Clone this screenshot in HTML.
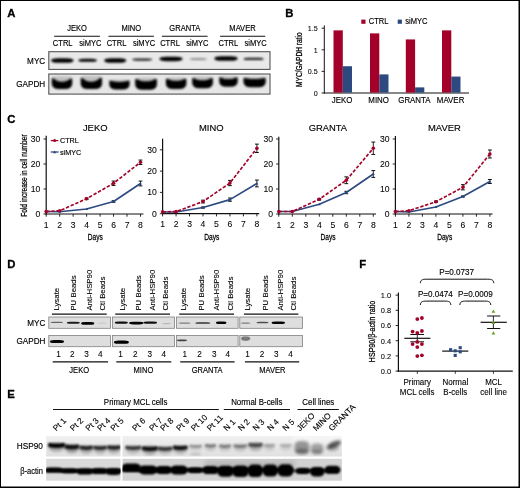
<!DOCTYPE html>
<html><head><meta charset="utf-8"><title>Figure</title>
<style>
html,body{margin:0;padding:0;background:#fff;}
body{width:520px;height:488px;overflow:hidden;}
svg{display:block;font-family:"Liberation Sans", sans-serif;}
text{font-family:"Liberation Sans", sans-serif;}
</style></head><body>
<svg width="520" height="488" viewBox="0 0 520 488">
<defs>
<filter id="b05" filterUnits="userSpaceOnUse" x="0" y="0" width="520" height="488"><feGaussianBlur stdDeviation="0.5"/></filter>
<filter id="b07" filterUnits="userSpaceOnUse" x="0" y="0" width="520" height="488"><feGaussianBlur stdDeviation="0.7"/></filter>
<filter id="b09" filterUnits="userSpaceOnUse" x="0" y="0" width="520" height="488"><feGaussianBlur stdDeviation="0.85"/></filter>
<filter id="b1" filterUnits="userSpaceOnUse" x="0" y="0" width="520" height="488"><feGaussianBlur stdDeviation="0.9"/></filter>
<filter id="b15" filterUnits="userSpaceOnUse" x="0" y="0" width="520" height="488"><feGaussianBlur stdDeviation="1.4"/></filter>
<filter id="b2" filterUnits="userSpaceOnUse" x="0" y="0" width="520" height="488"><feGaussianBlur stdDeviation="2"/></filter>
<linearGradient id="gE" x1="0" y1="0" x2="0" y2="1"><stop offset="0" stop-color="#f0f0f0"/><stop offset="0.5" stop-color="#e8e8e8"/><stop offset="1" stop-color="#e0e0e0"/></linearGradient>
<clipPath id="cA1"><rect x="49" y="52" width="221" height="17.5"/></clipPath>
<clipPath id="cA2"><rect x="49" y="74.3" width="221" height="19.7"/></clipPath>
<clipPath id="cE1"><rect x="46.2" y="436.0" width="74.3" height="20.5"/></clipPath>
<clipPath id="cE2"><rect x="122.5" y="436.0" width="219.4" height="20.5"/></clipPath>
<clipPath id="cE3"><rect x="46.2" y="458.8" width="74.3" height="21.9"/></clipPath>
<clipPath id="cE4"><rect x="122.5" y="458.8" width="219.4" height="21.9"/></clipPath>
</defs>
<rect x="0" y="0" width="520" height="488" fill="#fff"/>
<g opacity="0.999">

<text transform="translate(7.30 17.40) scale(0.97 1)" font-size="11.7" text-anchor="start" font-weight="bold" fill="#000" stroke="#000" stroke-width="0.3" >A</text>
<text transform="translate(285.20 17.40) scale(0.97 1)" font-size="11.7" text-anchor="start" font-weight="bold" fill="#000" stroke="#000" stroke-width="0.3" >B</text>
<text transform="translate(7.30 122.50) scale(0.97 1)" font-size="11.7" text-anchor="start" font-weight="bold" fill="#000" stroke="#000" stroke-width="0.3" >C</text>
<text transform="translate(7.30 268.30) scale(0.97 1)" font-size="11.7" text-anchor="start" font-weight="bold" fill="#000" stroke="#000" stroke-width="0.3" >D</text>
<text transform="translate(7.30 398.30) scale(0.97 1)" font-size="11.7" text-anchor="start" font-weight="bold" fill="#000" stroke="#000" stroke-width="0.3" >E</text>
<text transform="translate(359.20 268.30) scale(0.97 1)" font-size="11.7" text-anchor="start" font-weight="bold" fill="#000" stroke="#000" stroke-width="0.3" >F</text>
<text transform="translate(77.10 31.00) scale(0.9 1)" font-size="8.4" text-anchor="middle" font-weight="normal" fill="#000" stroke="#000" stroke-width="0.16" >JEKO</text>
<line x1="54.20" y1="36.20" x2="99.90" y2="36.20" stroke="#111" stroke-width="1.1" />
<text transform="translate(62.70 45.80) scale(0.9 1)" font-size="8.4" text-anchor="middle" font-weight="normal" fill="#000" stroke="#000" stroke-width="0.16" >CTRL</text>
<text transform="translate(90.30 45.80) scale(0.9 1)" font-size="8.4" text-anchor="middle" font-weight="normal" fill="#000" stroke="#000" stroke-width="0.16" >siMYC</text>
<text transform="translate(131.30 31.00) scale(0.9 1)" font-size="8.4" text-anchor="middle" font-weight="normal" fill="#000" stroke="#000" stroke-width="0.16" >MINO</text>
<line x1="108.50" y1="36.20" x2="153.90" y2="36.20" stroke="#111" stroke-width="1.1" />
<text transform="translate(116.50 45.80) scale(0.9 1)" font-size="8.4" text-anchor="middle" font-weight="normal" fill="#000" stroke="#000" stroke-width="0.16" >CTRL</text>
<text transform="translate(144.00 45.80) scale(0.9 1)" font-size="8.4" text-anchor="middle" font-weight="normal" fill="#000" stroke="#000" stroke-width="0.16" >siMYC</text>
<text transform="translate(184.80 31.00) scale(0.9 1)" font-size="8.4" text-anchor="middle" font-weight="normal" fill="#000" stroke="#000" stroke-width="0.16" >GRANTA</text>
<line x1="161.90" y1="36.20" x2="207.60" y2="36.20" stroke="#111" stroke-width="1.1" />
<text transform="translate(170.00 45.80) scale(0.9 1)" font-size="8.4" text-anchor="middle" font-weight="normal" fill="#000" stroke="#000" stroke-width="0.16" >CTRL</text>
<text transform="translate(197.40 45.80) scale(0.9 1)" font-size="8.4" text-anchor="middle" font-weight="normal" fill="#000" stroke="#000" stroke-width="0.16" >siMYC</text>
<text transform="translate(242.50 31.00) scale(0.9 1)" font-size="8.4" text-anchor="middle" font-weight="normal" fill="#000" stroke="#000" stroke-width="0.16" >MAVER</text>
<line x1="220.10" y1="36.20" x2="265.30" y2="36.20" stroke="#111" stroke-width="1.1" />
<text transform="translate(228.30 45.80) scale(0.9 1)" font-size="8.4" text-anchor="middle" font-weight="normal" fill="#000" stroke="#000" stroke-width="0.16" >CTRL</text>
<text transform="translate(255.70 45.80) scale(0.9 1)" font-size="8.4" text-anchor="middle" font-weight="normal" fill="#000" stroke="#000" stroke-width="0.16" >siMYC</text>
<text transform="translate(45.20 64.20) scale(0.97 1)" font-size="8.4" text-anchor="end" font-weight="normal" fill="#000" stroke="#000" stroke-width="0.16" >MYC</text>
<text transform="translate(45.20 87.20) scale(0.97 1)" font-size="8.4" text-anchor="end" font-weight="normal" fill="#000" stroke="#000" stroke-width="0.16" >GAPDH</text>
<rect x="48.80" y="51.70" width="221.20" height="17.70" fill="#e9e9e9" stroke="#555" stroke-width="1.1" />
<rect x="48.80" y="74.00" width="221.20" height="20.10" fill="#e6e6e6" stroke="#555" stroke-width="1.1" />
<g clip-path="url(#cA1)">
<rect x="51.10" y="58.15" width="22.40" height="4.70" rx="6.72" ry="2.35" fill="#000" opacity="1.0" filter="url(#b1)"/>
<rect x="78.35" y="58.65" width="18.50" height="3.10" rx="5.55" ry="1.55" fill="#000" opacity="1.0" filter="url(#b1)"/>
<rect x="104.20" y="58.15" width="22.00" height="4.70" rx="6.60" ry="2.35" fill="#000" opacity="1.0" filter="url(#b1)"/>
<rect x="132.20" y="58.50" width="20.00" height="2.20" rx="4.84" ry="1.10" fill="#000" opacity="0.88" filter="url(#b1)"/>
<rect x="159.30" y="56.65" width="23.40" height="4.50" rx="7.02" ry="2.25" fill="#000" opacity="1.0" filter="url(#b1)"/>
<rect x="189.80" y="58.20" width="17.00" height="1.80" rx="3.96" ry="0.90" fill="#000" opacity="0.45" filter="url(#b1)"/>
<rect x="214.30" y="56.15" width="23.40" height="4.70" rx="7.02" ry="2.35" fill="#000" opacity="1.0" filter="url(#b1)"/>
<rect x="243.60" y="57.70" width="20.00" height="2.40" rx="5.28" ry="1.20" fill="#000" opacity="0.88" filter="url(#b1)"/>
</g>
<g clip-path="url(#cA2)">
<rect x="51.90" y="76.20" width="20.20" height="10.80" rx="3" ry="3" fill="#000" opacity="0.16" filter="url(#b1)"/>
<path d="M51.90 78.29 C55.94 78.79 55.54 81.70 62.00 81.70 C68.46 81.70 68.06 79.04 72.10 78.54 L72.10 84.00 Q71.60 89.00 65.10 89.00 L58.90 89.00 Q52.40 89.00 51.90 84.00 Z" fill="#000" filter="url(#b1)"/>
<rect x="80.80" y="75.80" width="21.10" height="11.20" rx="3" ry="3" fill="#000" opacity="0.16" filter="url(#b1)"/>
<path d="M80.80 78.04 C85.02 78.54 84.60 81.70 91.35 81.70 C98.10 81.70 97.68 78.29 101.90 77.79 L101.90 84.00 Q101.40 89.00 94.90 89.00 L87.80 89.00 Q81.30 89.00 80.80 84.00 Z" fill="#000" filter="url(#b1)"/>
<rect x="109.40" y="79.70" width="20.10" height="7.70" rx="3" ry="3" fill="#000" opacity="0.16" filter="url(#b1)"/>
<path d="M109.40 80.54 C113.42 81.04 113.02 81.90 119.45 81.90 C125.88 81.90 125.48 81.04 129.50 80.54 L129.50 84.40 Q129.00 89.40 122.50 89.40 L116.40 89.40 Q109.90 89.40 109.40 84.40 Z" fill="#000" filter="url(#b1)"/>
<rect x="135.30" y="77.50" width="21.50" height="10.30" rx="3" ry="3" fill="#000" opacity="0.16" filter="url(#b1)"/>
<path d="M135.30 78.91 C139.60 79.41 139.17 81.20 146.05 81.20 C152.93 81.20 152.50 79.41 156.80 78.91 L156.80 84.80 Q156.30 89.80 149.80 89.80 L142.30 89.80 Q135.80 89.80 135.30 84.80 Z" fill="#000" filter="url(#b1)"/>
<rect x="166.00" y="77.50" width="20.30" height="9.50" rx="3" ry="3" fill="#000" opacity="0.16" filter="url(#b1)"/>
<path d="M166.00 78.75 C170.06 79.25 169.65 80.80 176.15 80.80 C182.65 80.80 182.24 79.25 186.30 78.75 L186.30 84.00 Q185.80 89.00 179.30 89.00 L173.00 89.00 Q166.50 89.00 166.00 84.00 Z" fill="#000" filter="url(#b1)"/>
<rect x="192.30" y="76.50" width="20.50" height="9.80" rx="3" ry="3" fill="#000" opacity="0.16" filter="url(#b1)"/>
<path d="M192.30 77.94 C196.40 78.44 195.99 80.30 202.55 80.30 C209.11 80.30 208.70 78.44 212.80 77.94 L212.80 83.30 Q212.30 88.30 205.80 88.30 L199.30 88.30 Q192.80 88.30 192.30 83.30 Z" fill="#000" filter="url(#b1)"/>
<rect x="219.30" y="76.00" width="18.30" height="8.80" rx="3" ry="3" fill="#000" opacity="0.16" filter="url(#b1)"/>
<path d="M219.30 77.14 C222.96 77.64 222.59 79.00 228.45 79.00 C234.31 79.00 233.94 77.64 237.60 77.14 L237.60 81.80 Q237.10 86.80 230.60 86.80 L226.30 86.80 Q219.80 86.80 219.30 81.80 Z" fill="#000" filter="url(#b1)"/>
<rect x="243.60" y="76.90" width="22.00" height="8.30" rx="3" ry="3" fill="#000" opacity="0.16" filter="url(#b1)"/>
<path d="M243.60 77.70 C248.00 78.20 247.56 79.00 254.60 79.00 C261.64 79.00 261.20 78.20 265.60 77.70 L265.60 82.20 Q265.10 87.20 258.60 87.20 L250.60 87.20 Q244.10 87.20 243.60 82.20 Z" fill="#000" filter="url(#b1)"/>
</g>
<line x1="324.30" y1="25.40" x2="324.30" y2="93.50" stroke="#111" stroke-width="1" />
<line x1="323.80" y1="93.00" x2="469.00" y2="93.00" stroke="#111" stroke-width="1" />
<line x1="321.60" y1="93.00" x2="324.30" y2="93.00" stroke="#111" stroke-width="0.9" />
<text transform="translate(317.70 95.80) scale(0.9 1)" font-size="7.9" text-anchor="end" font-weight="normal" fill="#000" stroke="#000" stroke-width="0.08" >0</text>
<line x1="321.60" y1="71.40" x2="324.30" y2="71.40" stroke="#111" stroke-width="0.9" />
<text transform="translate(317.70 74.20) scale(0.9 1)" font-size="7.9" text-anchor="end" font-weight="normal" fill="#000" stroke="#000" stroke-width="0.08" >0.5</text>
<line x1="321.60" y1="49.80" x2="324.30" y2="49.80" stroke="#111" stroke-width="0.9" />
<text transform="translate(317.70 52.60) scale(0.9 1)" font-size="7.9" text-anchor="end" font-weight="normal" fill="#000" stroke="#000" stroke-width="0.08" >1</text>
<line x1="321.60" y1="28.20" x2="324.30" y2="28.20" stroke="#111" stroke-width="0.9" />
<text transform="translate(317.70 31.00) scale(0.9 1)" font-size="7.9" text-anchor="end" font-weight="normal" fill="#000" stroke="#000" stroke-width="0.08" >1.5</text>
<rect x="333.50" y="30.36" width="9.30" height="62.24" fill="#a30029" stroke="none" stroke-width="0" />
<rect x="342.80" y="66.22" width="9.20" height="26.38" fill="#2c4a80" stroke="none" stroke-width="0" />
<text transform="translate(342.10 103.10) scale(0.94 1)" font-size="8.4" text-anchor="middle" font-weight="normal" fill="#000" stroke="#000" stroke-width="0.16" >JEKO</text>
<rect x="370.00" y="33.38" width="9.30" height="59.22" fill="#a30029" stroke="none" stroke-width="0" />
<rect x="379.30" y="74.42" width="9.20" height="18.18" fill="#2c4a80" stroke="none" stroke-width="0" />
<text transform="translate(378.60 103.10) scale(0.94 1)" font-size="8.4" text-anchor="middle" font-weight="normal" fill="#000" stroke="#000" stroke-width="0.16" >MINO</text>
<rect x="405.80" y="39.43" width="9.30" height="53.17" fill="#a30029" stroke="none" stroke-width="0" />
<rect x="415.10" y="87.38" width="9.20" height="5.22" fill="#2c4a80" stroke="none" stroke-width="0" />
<text transform="translate(414.40 103.10) scale(0.94 1)" font-size="8.4" text-anchor="middle" font-weight="normal" fill="#000" stroke="#000" stroke-width="0.16" >GRANTA</text>
<rect x="442.00" y="30.36" width="9.30" height="62.24" fill="#a30029" stroke="none" stroke-width="0" />
<rect x="451.30" y="76.58" width="9.20" height="16.02" fill="#2c4a80" stroke="none" stroke-width="0" />
<text transform="translate(450.60 103.10) scale(0.94 1)" font-size="8.4" text-anchor="middle" font-weight="normal" fill="#000" stroke="#000" stroke-width="0.16" >MAVER</text>
<rect x="361.30" y="19.60" width="4.20" height="4.20" fill="#a30029" stroke="none" stroke-width="0" />
<text transform="translate(368.80 24.20) scale(0.9 1)" font-size="8.4" text-anchor="start" font-weight="normal" fill="#000" stroke="#000" stroke-width="0.16" >CTRL</text>
<rect x="397.70" y="19.60" width="4.20" height="4.20" fill="#2c4a80" stroke="none" stroke-width="0" />
<text transform="translate(405.20 24.20) scale(0.9 1)" font-size="8.4" text-anchor="start" font-weight="normal" fill="#000" stroke="#000" stroke-width="0.16" >siMYC</text>
<text transform="translate(302.00 59.70) rotate(-90) scale(0.75 1)" font-size="8.8" text-anchor="middle" fill="#000" stroke="#000" stroke-width="0.28" font-weight="normal">MYC/GAPDH ratio</text>
<text transform="translate(95.20 130.80) scale(0.97 1)" font-size="9.7" text-anchor="middle" font-weight="normal" fill="#000" stroke="#000" stroke-width="0.16" >JEKO</text>
<line x1="46.20" y1="135.70" x2="46.20" y2="214.60" stroke="#111" stroke-width="1.2" />
<line x1="45.60" y1="214.00" x2="143.40" y2="214.00" stroke="#111" stroke-width="1.2" />
<line x1="43.50" y1="214.00" x2="46.20" y2="214.00" stroke="#111" stroke-width="0.9" />
<text transform="translate(40.40 216.90) scale(1.04 1)" font-size="8.3" text-anchor="end" font-weight="normal" fill="#000" stroke="#000" stroke-width="0.08" >0</text>
<line x1="43.50" y1="189.00" x2="46.20" y2="189.00" stroke="#111" stroke-width="0.9" />
<text transform="translate(40.40 191.90) scale(1.04 1)" font-size="8.3" text-anchor="end" font-weight="normal" fill="#000" stroke="#000" stroke-width="0.08" >10</text>
<line x1="43.50" y1="164.00" x2="46.20" y2="164.00" stroke="#111" stroke-width="0.9" />
<text transform="translate(40.40 166.90) scale(1.04 1)" font-size="8.3" text-anchor="end" font-weight="normal" fill="#000" stroke="#000" stroke-width="0.08" >20</text>
<line x1="43.50" y1="139.00" x2="46.20" y2="139.00" stroke="#111" stroke-width="0.9" />
<text transform="translate(40.40 141.90) scale(1.04 1)" font-size="8.3" text-anchor="end" font-weight="normal" fill="#000" stroke="#000" stroke-width="0.08" >30</text>
<line x1="46.20" y1="214.00" x2="46.20" y2="216.70" stroke="#111" stroke-width="0.9" />
<text transform="translate(46.20 227.60) scale(1.04 1)" font-size="8.3" text-anchor="middle" font-weight="normal" fill="#000" stroke="#000" stroke-width="0.08" >1</text>
<line x1="59.67" y1="214.00" x2="59.67" y2="216.70" stroke="#111" stroke-width="0.9" />
<text transform="translate(59.67 227.60) scale(1.04 1)" font-size="8.3" text-anchor="middle" font-weight="normal" fill="#000" stroke="#000" stroke-width="0.08" >2</text>
<line x1="73.14" y1="214.00" x2="73.14" y2="216.70" stroke="#111" stroke-width="0.9" />
<text transform="translate(73.14 227.60) scale(1.04 1)" font-size="8.3" text-anchor="middle" font-weight="normal" fill="#000" stroke="#000" stroke-width="0.08" >3</text>
<line x1="86.61" y1="214.00" x2="86.61" y2="216.70" stroke="#111" stroke-width="0.9" />
<text transform="translate(86.61 227.60) scale(1.04 1)" font-size="8.3" text-anchor="middle" font-weight="normal" fill="#000" stroke="#000" stroke-width="0.08" >4</text>
<line x1="100.08" y1="214.00" x2="100.08" y2="216.70" stroke="#111" stroke-width="0.9" />
<text transform="translate(100.08 227.60) scale(1.04 1)" font-size="8.3" text-anchor="middle" font-weight="normal" fill="#000" stroke="#000" stroke-width="0.08" >5</text>
<line x1="113.55" y1="214.00" x2="113.55" y2="216.70" stroke="#111" stroke-width="0.9" />
<text transform="translate(113.55 227.60) scale(1.04 1)" font-size="8.3" text-anchor="middle" font-weight="normal" fill="#000" stroke="#000" stroke-width="0.08" >6</text>
<line x1="127.02" y1="214.00" x2="127.02" y2="216.70" stroke="#111" stroke-width="0.9" />
<text transform="translate(127.02 227.60) scale(1.04 1)" font-size="8.3" text-anchor="middle" font-weight="normal" fill="#000" stroke="#000" stroke-width="0.08" >7</text>
<line x1="140.49" y1="214.00" x2="140.49" y2="216.70" stroke="#111" stroke-width="0.9" />
<text transform="translate(140.49 227.60) scale(1.04 1)" font-size="8.3" text-anchor="middle" font-weight="normal" fill="#000" stroke="#000" stroke-width="0.08" >8</text>
<text transform="translate(95.37 240.00) scale(0.69 1)" font-size="9.6" text-anchor="middle" font-weight="normal" fill="#000" stroke="#000" stroke-width="0.28" >Days</text>
<line x1="86.61" y1="197.95" x2="86.61" y2="199.55" stroke="#111" stroke-width="0.9" />
<line x1="84.71" y1="197.95" x2="88.51" y2="197.95" stroke="#111" stroke-width="1.0" />
<line x1="84.71" y1="199.55" x2="88.51" y2="199.55" stroke="#111" stroke-width="1.0" />
<line x1="113.55" y1="181.05" x2="113.55" y2="185.45" stroke="#111" stroke-width="0.9" />
<line x1="111.65" y1="181.05" x2="115.45" y2="181.05" stroke="#111" stroke-width="1.0" />
<line x1="111.65" y1="185.45" x2="115.45" y2="185.45" stroke="#111" stroke-width="1.0" />
<line x1="140.49" y1="160.05" x2="140.49" y2="164.45" stroke="#111" stroke-width="0.9" />
<line x1="138.59" y1="160.05" x2="142.39" y2="160.05" stroke="#111" stroke-width="1.0" />
<line x1="138.59" y1="164.45" x2="142.39" y2="164.45" stroke="#111" stroke-width="1.0" />
<line x1="113.55" y1="200.70" x2="113.55" y2="202.30" stroke="#111" stroke-width="0.9" />
<line x1="111.65" y1="200.70" x2="115.45" y2="200.70" stroke="#111" stroke-width="1.0" />
<line x1="111.65" y1="202.30" x2="115.45" y2="202.30" stroke="#111" stroke-width="1.0" />
<line x1="140.49" y1="181.10" x2="140.49" y2="185.90" stroke="#111" stroke-width="0.9" />
<line x1="138.59" y1="181.10" x2="142.39" y2="181.10" stroke="#111" stroke-width="1.0" />
<line x1="138.59" y1="185.90" x2="142.39" y2="185.90" stroke="#111" stroke-width="1.0" />
<polyline points="46.20,211.50 59.67,211.75 86.61,209.00 113.55,201.50 140.49,183.50" fill="none" stroke="#2c4a80" stroke-width="1.65" stroke-linejoin="round"/>
<path d="M46.20 210.00 L47.70 212.60 L44.70 212.60 Z" fill="#2c4a80"/>
<path d="M59.67 210.25 L61.17 212.85 L58.17 212.85 Z" fill="#2c4a80"/>
<path d="M86.61 207.50 L88.11 210.10 L85.11 210.10 Z" fill="#2c4a80"/>
<path d="M113.55 200.00 L115.05 202.60 L112.05 202.60 Z" fill="#2c4a80"/>
<path d="M140.49 182.00 L141.99 184.60 L138.99 184.60 Z" fill="#2c4a80"/>
<polyline points="46.20,211.50 59.67,210.75 86.61,198.75 113.55,183.25 140.49,162.25" fill="none" stroke="#a30029" stroke-width="1.65" stroke-dasharray="3.4 1.7" stroke-linejoin="round"/>
<circle cx="46.20" cy="211.50" r="1.8" fill="#a30029"/>
<circle cx="59.67" cy="210.75" r="1.8" fill="#a30029"/>
<circle cx="86.61" cy="198.75" r="1.8" fill="#a30029"/>
<circle cx="113.55" cy="183.25" r="1.8" fill="#a30029"/>
<circle cx="140.49" cy="162.25" r="1.8" fill="#a30029"/>
<text transform="translate(211.30 130.80) scale(0.97 1)" font-size="9.7" text-anchor="middle" font-weight="normal" fill="#000" stroke="#000" stroke-width="0.16" >MINO</text>
<line x1="162.60" y1="138.80" x2="162.60" y2="214.30" stroke="#111" stroke-width="1.2" />
<line x1="162.00" y1="213.70" x2="259.20" y2="213.70" stroke="#111" stroke-width="1.2" />
<line x1="159.90" y1="213.70" x2="162.60" y2="213.70" stroke="#111" stroke-width="0.9" />
<text transform="translate(156.80 216.60) scale(1.04 1)" font-size="8.3" text-anchor="end" font-weight="normal" fill="#000" stroke="#000" stroke-width="0.08" >0</text>
<line x1="159.90" y1="192.40" x2="162.60" y2="192.40" stroke="#111" stroke-width="0.9" />
<text transform="translate(156.80 195.30) scale(1.04 1)" font-size="8.3" text-anchor="end" font-weight="normal" fill="#000" stroke="#000" stroke-width="0.08" >10</text>
<line x1="159.90" y1="171.10" x2="162.60" y2="171.10" stroke="#111" stroke-width="0.9" />
<text transform="translate(156.80 174.00) scale(1.04 1)" font-size="8.3" text-anchor="end" font-weight="normal" fill="#000" stroke="#000" stroke-width="0.08" >20</text>
<line x1="159.90" y1="149.80" x2="162.60" y2="149.80" stroke="#111" stroke-width="0.9" />
<text transform="translate(156.80 152.70) scale(1.04 1)" font-size="8.3" text-anchor="end" font-weight="normal" fill="#000" stroke="#000" stroke-width="0.08" >30</text>
<line x1="162.60" y1="213.70" x2="162.60" y2="216.40" stroke="#111" stroke-width="0.9" />
<text transform="translate(162.60 227.30) scale(1.04 1)" font-size="8.3" text-anchor="middle" font-weight="normal" fill="#000" stroke="#000" stroke-width="0.08" >1</text>
<line x1="176.07" y1="213.70" x2="176.07" y2="216.40" stroke="#111" stroke-width="0.9" />
<text transform="translate(176.07 227.30) scale(1.04 1)" font-size="8.3" text-anchor="middle" font-weight="normal" fill="#000" stroke="#000" stroke-width="0.08" >2</text>
<line x1="189.54" y1="213.70" x2="189.54" y2="216.40" stroke="#111" stroke-width="0.9" />
<text transform="translate(189.54 227.30) scale(1.04 1)" font-size="8.3" text-anchor="middle" font-weight="normal" fill="#000" stroke="#000" stroke-width="0.08" >3</text>
<line x1="203.01" y1="213.70" x2="203.01" y2="216.40" stroke="#111" stroke-width="0.9" />
<text transform="translate(203.01 227.30) scale(1.04 1)" font-size="8.3" text-anchor="middle" font-weight="normal" fill="#000" stroke="#000" stroke-width="0.08" >4</text>
<line x1="216.48" y1="213.70" x2="216.48" y2="216.40" stroke="#111" stroke-width="0.9" />
<text transform="translate(216.48 227.30) scale(1.04 1)" font-size="8.3" text-anchor="middle" font-weight="normal" fill="#000" stroke="#000" stroke-width="0.08" >5</text>
<line x1="229.95" y1="213.70" x2="229.95" y2="216.40" stroke="#111" stroke-width="0.9" />
<text transform="translate(229.95 227.30) scale(1.04 1)" font-size="8.3" text-anchor="middle" font-weight="normal" fill="#000" stroke="#000" stroke-width="0.08" >6</text>
<line x1="243.42" y1="213.70" x2="243.42" y2="216.40" stroke="#111" stroke-width="0.9" />
<text transform="translate(243.42 227.30) scale(1.04 1)" font-size="8.3" text-anchor="middle" font-weight="normal" fill="#000" stroke="#000" stroke-width="0.08" >7</text>
<line x1="256.89" y1="213.70" x2="256.89" y2="216.40" stroke="#111" stroke-width="0.9" />
<text transform="translate(256.89 227.30) scale(1.04 1)" font-size="8.3" text-anchor="middle" font-weight="normal" fill="#000" stroke="#000" stroke-width="0.08" >8</text>
<text transform="translate(211.77 240.00) scale(0.69 1)" font-size="9.6" text-anchor="middle" font-weight="normal" fill="#000" stroke="#000" stroke-width="0.28" >Days</text>
<line x1="203.01" y1="200.16" x2="203.01" y2="202.96" stroke="#111" stroke-width="0.9" />
<line x1="201.11" y1="200.16" x2="204.91" y2="200.16" stroke="#111" stroke-width="1.0" />
<line x1="201.11" y1="202.96" x2="204.91" y2="202.96" stroke="#111" stroke-width="1.0" />
<line x1="229.95" y1="180.43" x2="229.95" y2="185.63" stroke="#111" stroke-width="0.9" />
<line x1="228.05" y1="180.43" x2="231.85" y2="180.43" stroke="#111" stroke-width="1.0" />
<line x1="228.05" y1="185.63" x2="231.85" y2="185.63" stroke="#111" stroke-width="1.0" />
<line x1="256.89" y1="144.11" x2="256.89" y2="152.51" stroke="#111" stroke-width="0.9" />
<line x1="254.99" y1="144.11" x2="258.79" y2="144.11" stroke="#111" stroke-width="1.0" />
<line x1="254.99" y1="152.51" x2="258.79" y2="152.51" stroke="#111" stroke-width="1.0" />
<line x1="203.01" y1="206.92" x2="203.01" y2="208.12" stroke="#111" stroke-width="0.9" />
<line x1="201.11" y1="206.92" x2="204.91" y2="206.92" stroke="#111" stroke-width="1.0" />
<line x1="201.11" y1="208.12" x2="204.91" y2="208.12" stroke="#111" stroke-width="1.0" />
<line x1="229.95" y1="198.04" x2="229.95" y2="201.24" stroke="#111" stroke-width="0.9" />
<line x1="228.05" y1="198.04" x2="231.85" y2="198.04" stroke="#111" stroke-width="1.0" />
<line x1="228.05" y1="201.24" x2="231.85" y2="201.24" stroke="#111" stroke-width="1.0" />
<line x1="256.89" y1="180.05" x2="256.89" y2="186.85" stroke="#111" stroke-width="0.9" />
<line x1="254.99" y1="180.05" x2="258.79" y2="180.05" stroke="#111" stroke-width="1.0" />
<line x1="254.99" y1="186.85" x2="258.79" y2="186.85" stroke="#111" stroke-width="1.0" />
<polyline points="162.60,212.00 176.07,212.00 203.01,207.52 229.95,199.64 256.89,183.45" fill="none" stroke="#2c4a80" stroke-width="1.65" stroke-linejoin="round"/>
<path d="M162.60 210.50 L164.10 213.10 L161.10 213.10 Z" fill="#2c4a80"/>
<path d="M176.07 210.50 L177.57 213.10 L174.57 213.10 Z" fill="#2c4a80"/>
<path d="M203.01 206.02 L204.51 208.62 L201.51 208.62 Z" fill="#2c4a80"/>
<path d="M229.95 198.14 L231.45 200.74 L228.45 200.74 Z" fill="#2c4a80"/>
<path d="M256.89 181.95 L258.39 184.55 L255.39 184.55 Z" fill="#2c4a80"/>
<polyline points="162.60,211.78 176.07,211.57 203.01,201.56 229.95,183.03 256.89,148.31" fill="none" stroke="#a30029" stroke-width="1.65" stroke-dasharray="3.4 1.7" stroke-linejoin="round"/>
<circle cx="162.60" cy="211.78" r="1.8" fill="#a30029"/>
<circle cx="176.07" cy="211.57" r="1.8" fill="#a30029"/>
<circle cx="203.01" cy="201.56" r="1.8" fill="#a30029"/>
<circle cx="229.95" cy="183.03" r="1.8" fill="#a30029"/>
<circle cx="256.89" cy="148.31" r="1.8" fill="#a30029"/>
<text transform="translate(327.90 130.80) scale(0.97 1)" font-size="9.7" text-anchor="middle" font-weight="normal" fill="#000" stroke="#000" stroke-width="0.16" >GRANTA</text>
<line x1="278.80" y1="136.80" x2="278.80" y2="214.60" stroke="#111" stroke-width="1.2" />
<line x1="278.20" y1="214.00" x2="376.00" y2="214.00" stroke="#111" stroke-width="1.2" />
<line x1="276.10" y1="214.00" x2="278.80" y2="214.00" stroke="#111" stroke-width="0.9" />
<text transform="translate(273.00 216.90) scale(1.04 1)" font-size="8.3" text-anchor="end" font-weight="normal" fill="#000" stroke="#000" stroke-width="0.08" >0</text>
<line x1="276.10" y1="189.00" x2="278.80" y2="189.00" stroke="#111" stroke-width="0.9" />
<text transform="translate(273.00 191.90) scale(1.04 1)" font-size="8.3" text-anchor="end" font-weight="normal" fill="#000" stroke="#000" stroke-width="0.08" >10</text>
<line x1="276.10" y1="164.00" x2="278.80" y2="164.00" stroke="#111" stroke-width="0.9" />
<text transform="translate(273.00 166.90) scale(1.04 1)" font-size="8.3" text-anchor="end" font-weight="normal" fill="#000" stroke="#000" stroke-width="0.08" >20</text>
<line x1="276.10" y1="139.00" x2="278.80" y2="139.00" stroke="#111" stroke-width="0.9" />
<text transform="translate(273.00 141.90) scale(1.04 1)" font-size="8.3" text-anchor="end" font-weight="normal" fill="#000" stroke="#000" stroke-width="0.08" >30</text>
<line x1="278.80" y1="214.00" x2="278.80" y2="216.70" stroke="#111" stroke-width="0.9" />
<text transform="translate(278.80 227.60) scale(1.04 1)" font-size="8.3" text-anchor="middle" font-weight="normal" fill="#000" stroke="#000" stroke-width="0.08" >1</text>
<line x1="292.30" y1="214.00" x2="292.30" y2="216.70" stroke="#111" stroke-width="0.9" />
<text transform="translate(292.30 227.60) scale(1.04 1)" font-size="8.3" text-anchor="middle" font-weight="normal" fill="#000" stroke="#000" stroke-width="0.08" >2</text>
<line x1="305.80" y1="214.00" x2="305.80" y2="216.70" stroke="#111" stroke-width="0.9" />
<text transform="translate(305.80 227.60) scale(1.04 1)" font-size="8.3" text-anchor="middle" font-weight="normal" fill="#000" stroke="#000" stroke-width="0.08" >3</text>
<line x1="319.30" y1="214.00" x2="319.30" y2="216.70" stroke="#111" stroke-width="0.9" />
<text transform="translate(319.30 227.60) scale(1.04 1)" font-size="8.3" text-anchor="middle" font-weight="normal" fill="#000" stroke="#000" stroke-width="0.08" >4</text>
<line x1="332.80" y1="214.00" x2="332.80" y2="216.70" stroke="#111" stroke-width="0.9" />
<text transform="translate(332.80 227.60) scale(1.04 1)" font-size="8.3" text-anchor="middle" font-weight="normal" fill="#000" stroke="#000" stroke-width="0.08" >5</text>
<line x1="346.30" y1="214.00" x2="346.30" y2="216.70" stroke="#111" stroke-width="0.9" />
<text transform="translate(346.30 227.60) scale(1.04 1)" font-size="8.3" text-anchor="middle" font-weight="normal" fill="#000" stroke="#000" stroke-width="0.08" >6</text>
<line x1="359.80" y1="214.00" x2="359.80" y2="216.70" stroke="#111" stroke-width="0.9" />
<text transform="translate(359.80 227.60) scale(1.04 1)" font-size="8.3" text-anchor="middle" font-weight="normal" fill="#000" stroke="#000" stroke-width="0.08" >7</text>
<line x1="373.30" y1="214.00" x2="373.30" y2="216.70" stroke="#111" stroke-width="0.9" />
<text transform="translate(373.30 227.60) scale(1.04 1)" font-size="8.3" text-anchor="middle" font-weight="normal" fill="#000" stroke="#000" stroke-width="0.08" >8</text>
<text transform="translate(328.07 240.00) scale(0.69 1)" font-size="9.6" text-anchor="middle" font-weight="normal" fill="#000" stroke="#000" stroke-width="0.28" >Days</text>
<line x1="319.30" y1="198.45" x2="319.30" y2="200.05" stroke="#111" stroke-width="0.9" />
<line x1="317.40" y1="198.45" x2="321.20" y2="198.45" stroke="#111" stroke-width="1.0" />
<line x1="317.40" y1="200.05" x2="321.20" y2="200.05" stroke="#111" stroke-width="1.0" />
<line x1="346.30" y1="176.85" x2="346.30" y2="183.65" stroke="#111" stroke-width="0.9" />
<line x1="344.40" y1="176.85" x2="348.20" y2="176.85" stroke="#111" stroke-width="1.0" />
<line x1="344.40" y1="183.65" x2="348.20" y2="183.65" stroke="#111" stroke-width="1.0" />
<line x1="373.30" y1="142.05" x2="373.30" y2="154.45" stroke="#111" stroke-width="0.9" />
<line x1="371.40" y1="142.05" x2="375.20" y2="142.05" stroke="#111" stroke-width="1.0" />
<line x1="371.40" y1="154.45" x2="375.20" y2="154.45" stroke="#111" stroke-width="1.0" />
<line x1="346.30" y1="191.30" x2="346.30" y2="193.70" stroke="#111" stroke-width="0.9" />
<line x1="344.40" y1="191.30" x2="348.20" y2="191.30" stroke="#111" stroke-width="1.0" />
<line x1="344.40" y1="193.70" x2="348.20" y2="193.70" stroke="#111" stroke-width="1.0" />
<line x1="373.30" y1="170.60" x2="373.30" y2="177.40" stroke="#111" stroke-width="0.9" />
<line x1="371.40" y1="170.60" x2="375.20" y2="170.60" stroke="#111" stroke-width="1.0" />
<line x1="371.40" y1="177.40" x2="375.20" y2="177.40" stroke="#111" stroke-width="1.0" />
<polyline points="278.80,211.50 292.30,211.50 319.30,204.25 346.30,192.50 373.30,174.00" fill="none" stroke="#2c4a80" stroke-width="1.65" stroke-linejoin="round"/>
<path d="M278.80 210.00 L280.30 212.60 L277.30 212.60 Z" fill="#2c4a80"/>
<path d="M292.30 210.00 L293.80 212.60 L290.80 212.60 Z" fill="#2c4a80"/>
<path d="M319.30 202.75 L320.80 205.35 L317.80 205.35 Z" fill="#2c4a80"/>
<path d="M346.30 191.00 L347.80 193.60 L344.80 193.60 Z" fill="#2c4a80"/>
<path d="M373.30 172.50 L374.80 175.10 L371.80 175.10 Z" fill="#2c4a80"/>
<polyline points="278.80,211.50 292.30,211.50 319.30,199.25 346.30,180.25 373.30,148.25" fill="none" stroke="#a30029" stroke-width="1.65" stroke-dasharray="3.4 1.7" stroke-linejoin="round"/>
<circle cx="278.80" cy="211.50" r="1.8" fill="#a30029"/>
<circle cx="292.30" cy="211.50" r="1.8" fill="#a30029"/>
<circle cx="319.30" cy="199.25" r="1.8" fill="#a30029"/>
<circle cx="346.30" cy="180.25" r="1.8" fill="#a30029"/>
<circle cx="373.30" cy="148.25" r="1.8" fill="#a30029"/>
<text transform="translate(444.40 130.80) scale(0.97 1)" font-size="9.7" text-anchor="middle" font-weight="normal" fill="#000" stroke="#000" stroke-width="0.16" >MAVER</text>
<line x1="395.40" y1="136.00" x2="395.40" y2="214.60" stroke="#111" stroke-width="1.2" />
<line x1="394.80" y1="214.00" x2="492.60" y2="214.00" stroke="#111" stroke-width="1.2" />
<line x1="392.70" y1="214.00" x2="395.40" y2="214.00" stroke="#111" stroke-width="0.9" />
<text transform="translate(389.60 216.90) scale(1.04 1)" font-size="8.3" text-anchor="end" font-weight="normal" fill="#000" stroke="#000" stroke-width="0.08" >0</text>
<line x1="392.70" y1="189.00" x2="395.40" y2="189.00" stroke="#111" stroke-width="0.9" />
<text transform="translate(389.60 191.90) scale(1.04 1)" font-size="8.3" text-anchor="end" font-weight="normal" fill="#000" stroke="#000" stroke-width="0.08" >10</text>
<line x1="392.70" y1="164.00" x2="395.40" y2="164.00" stroke="#111" stroke-width="0.9" />
<text transform="translate(389.60 166.90) scale(1.04 1)" font-size="8.3" text-anchor="end" font-weight="normal" fill="#000" stroke="#000" stroke-width="0.08" >20</text>
<line x1="392.70" y1="139.00" x2="395.40" y2="139.00" stroke="#111" stroke-width="0.9" />
<text transform="translate(389.60 141.90) scale(1.04 1)" font-size="8.3" text-anchor="end" font-weight="normal" fill="#000" stroke="#000" stroke-width="0.08" >30</text>
<line x1="395.40" y1="214.00" x2="395.40" y2="216.70" stroke="#111" stroke-width="0.9" />
<text transform="translate(395.40 227.60) scale(1.04 1)" font-size="8.3" text-anchor="middle" font-weight="normal" fill="#000" stroke="#000" stroke-width="0.08" >1</text>
<line x1="408.90" y1="214.00" x2="408.90" y2="216.70" stroke="#111" stroke-width="0.9" />
<text transform="translate(408.90 227.60) scale(1.04 1)" font-size="8.3" text-anchor="middle" font-weight="normal" fill="#000" stroke="#000" stroke-width="0.08" >2</text>
<line x1="422.40" y1="214.00" x2="422.40" y2="216.70" stroke="#111" stroke-width="0.9" />
<text transform="translate(422.40 227.60) scale(1.04 1)" font-size="8.3" text-anchor="middle" font-weight="normal" fill="#000" stroke="#000" stroke-width="0.08" >3</text>
<line x1="435.90" y1="214.00" x2="435.90" y2="216.70" stroke="#111" stroke-width="0.9" />
<text transform="translate(435.90 227.60) scale(1.04 1)" font-size="8.3" text-anchor="middle" font-weight="normal" fill="#000" stroke="#000" stroke-width="0.08" >4</text>
<line x1="449.40" y1="214.00" x2="449.40" y2="216.70" stroke="#111" stroke-width="0.9" />
<text transform="translate(449.40 227.60) scale(1.04 1)" font-size="8.3" text-anchor="middle" font-weight="normal" fill="#000" stroke="#000" stroke-width="0.08" >5</text>
<line x1="462.90" y1="214.00" x2="462.90" y2="216.70" stroke="#111" stroke-width="0.9" />
<text transform="translate(462.90 227.60) scale(1.04 1)" font-size="8.3" text-anchor="middle" font-weight="normal" fill="#000" stroke="#000" stroke-width="0.08" >6</text>
<line x1="476.40" y1="214.00" x2="476.40" y2="216.70" stroke="#111" stroke-width="0.9" />
<text transform="translate(476.40 227.60) scale(1.04 1)" font-size="8.3" text-anchor="middle" font-weight="normal" fill="#000" stroke="#000" stroke-width="0.08" >7</text>
<line x1="489.90" y1="214.00" x2="489.90" y2="216.70" stroke="#111" stroke-width="0.9" />
<text transform="translate(489.90 227.60) scale(1.04 1)" font-size="8.3" text-anchor="middle" font-weight="normal" fill="#000" stroke="#000" stroke-width="0.08" >8</text>
<text transform="translate(444.67 240.00) scale(0.69 1)" font-size="9.6" text-anchor="middle" font-weight="normal" fill="#000" stroke="#000" stroke-width="0.28" >Days</text>
<line x1="435.90" y1="201.15" x2="435.90" y2="202.35" stroke="#111" stroke-width="0.9" />
<line x1="434.00" y1="201.15" x2="437.80" y2="201.15" stroke="#111" stroke-width="1.0" />
<line x1="434.00" y1="202.35" x2="437.80" y2="202.35" stroke="#111" stroke-width="1.0" />
<line x1="462.90" y1="184.65" x2="462.90" y2="189.85" stroke="#111" stroke-width="0.9" />
<line x1="461.00" y1="184.65" x2="464.80" y2="184.65" stroke="#111" stroke-width="1.0" />
<line x1="461.00" y1="189.85" x2="464.80" y2="189.85" stroke="#111" stroke-width="1.0" />
<line x1="489.90" y1="150.00" x2="489.90" y2="158.00" stroke="#111" stroke-width="0.9" />
<line x1="488.00" y1="150.00" x2="491.80" y2="150.00" stroke="#111" stroke-width="1.0" />
<line x1="488.00" y1="158.00" x2="491.80" y2="158.00" stroke="#111" stroke-width="1.0" />
<line x1="462.90" y1="195.90" x2="462.90" y2="197.10" stroke="#111" stroke-width="0.9" />
<line x1="461.00" y1="195.90" x2="464.80" y2="195.90" stroke="#111" stroke-width="1.0" />
<line x1="461.00" y1="197.10" x2="464.80" y2="197.10" stroke="#111" stroke-width="1.0" />
<line x1="489.90" y1="179.50" x2="489.90" y2="183.50" stroke="#111" stroke-width="0.9" />
<line x1="488.00" y1="179.50" x2="491.80" y2="179.50" stroke="#111" stroke-width="1.0" />
<line x1="488.00" y1="183.50" x2="491.80" y2="183.50" stroke="#111" stroke-width="1.0" />
<polyline points="395.40,211.50 408.90,212.00 435.90,207.00 462.90,196.50 489.90,181.50" fill="none" stroke="#2c4a80" stroke-width="1.65" stroke-linejoin="round"/>
<path d="M395.40 210.00 L396.90 212.60 L393.90 212.60 Z" fill="#2c4a80"/>
<path d="M408.90 210.50 L410.40 213.10 L407.40 213.10 Z" fill="#2c4a80"/>
<path d="M435.90 205.50 L437.40 208.10 L434.40 208.10 Z" fill="#2c4a80"/>
<path d="M462.90 195.00 L464.40 197.60 L461.40 197.60 Z" fill="#2c4a80"/>
<path d="M489.90 180.00 L491.40 182.60 L488.40 182.60 Z" fill="#2c4a80"/>
<polyline points="395.40,211.50 408.90,210.75 435.90,201.75 462.90,187.25 489.90,154.00" fill="none" stroke="#a30029" stroke-width="1.65" stroke-dasharray="3.4 1.7" stroke-linejoin="round"/>
<circle cx="395.40" cy="211.50" r="1.8" fill="#a30029"/>
<circle cx="408.90" cy="210.75" r="1.8" fill="#a30029"/>
<circle cx="435.90" cy="201.75" r="1.8" fill="#a30029"/>
<circle cx="462.90" cy="187.25" r="1.8" fill="#a30029"/>
<circle cx="489.90" cy="154.00" r="1.8" fill="#a30029"/>
<text transform="translate(26.60 175.60) rotate(-90) scale(0.71 1)" font-size="9.3" text-anchor="middle" fill="#000" stroke="#000" stroke-width="0.28" font-weight="normal">Fold increase in cell number</text>
<line x1="50.80" y1="140.60" x2="58.30" y2="140.60" stroke="#a30029" stroke-width="1.3" />
<circle cx="54.6" cy="140.6" r="1.5" fill="#a30029"/>
<text transform="translate(60.00 143.30) scale(0.9 1)" font-size="8.0" text-anchor="start" font-weight="normal" fill="#000" stroke="#000" stroke-width="0.16" >CTRL</text>
<line x1="50.80" y1="152.00" x2="58.60" y2="152.00" stroke="#2c4a80" stroke-width="1.3" />
<path d="M54.7 150.4 L56.3 153.2 L53.1 153.2 Z" fill="#2c4a80"/>
<text transform="translate(60.00 154.60) scale(0.9 1)" font-size="8.0" text-anchor="start" font-weight="normal" fill="#000" stroke="#000" stroke-width="0.16" >siMYC</text>
<text transform="translate(45.40 326.40) scale(0.97 1)" font-size="8.4" text-anchor="end" font-weight="normal" fill="#000" stroke="#000" stroke-width="0.16" >MYC</text>
<text transform="translate(45.40 344.00) scale(0.97 1)" font-size="8.4" text-anchor="end" font-weight="normal" fill="#000" stroke="#000" stroke-width="0.16" >GAPDH</text>
<rect x="48.80" y="317.00" width="61.70" height="11.30" fill="#dedede" stroke="#808080" stroke-width="0.8" />
<rect x="48.80" y="335.50" width="61.70" height="11.20" fill="#dedede" stroke="#808080" stroke-width="0.8" />
<line x1="51.90" y1="314.10" x2="106.70" y2="314.10" stroke="#111" stroke-width="1.1" />
<text transform="translate(58.80 310.60) rotate(-90) scale(0.98 1)" font-size="8.0" text-anchor="start" fill="#000" stroke="#000" stroke-width="0.12" font-weight="normal">Lysate</text>
<text transform="translate(75.80 310.60) rotate(-90) scale(0.98 1)" font-size="8.0" text-anchor="start" fill="#000" stroke="#000" stroke-width="0.12" font-weight="normal">PU Beads</text>
<text transform="translate(91.60 310.60) rotate(-90) scale(0.98 1)" font-size="8.0" text-anchor="start" fill="#000" stroke="#000" stroke-width="0.12" font-weight="normal">Anti-HSP90</text>
<text transform="translate(105.30 310.60) rotate(-90) scale(0.98 1)" font-size="8.0" text-anchor="start" fill="#000" stroke="#000" stroke-width="0.12" font-weight="normal">Ctl Beads</text>
<text transform="translate(58.50 357.10) scale(1.0 1)" font-size="8.2" text-anchor="middle" font-weight="normal" fill="#000" stroke="#000" stroke-width="0.1" >1</text>
<text transform="translate(72.20 357.10) scale(1.0 1)" font-size="8.2" text-anchor="middle" font-weight="normal" fill="#000" stroke="#000" stroke-width="0.1" >2</text>
<text transform="translate(86.50 357.10) scale(1.0 1)" font-size="8.2" text-anchor="middle" font-weight="normal" fill="#000" stroke="#000" stroke-width="0.1" >3</text>
<text transform="translate(100.40 357.10) scale(1.0 1)" font-size="8.2" text-anchor="middle" font-weight="normal" fill="#000" stroke="#000" stroke-width="0.1" >4</text>
<line x1="52.70" y1="361.90" x2="108.10" y2="361.90" stroke="#111" stroke-width="1.1" />
<text transform="translate(79.20 372.80) scale(0.9 1)" font-size="8.4" text-anchor="middle" font-weight="normal" fill="#000" stroke="#000" stroke-width="0.16" >JEKO</text>
<rect x="112.50" y="317.00" width="62.00" height="11.30" fill="#dedede" stroke="#808080" stroke-width="0.8" />
<rect x="112.50" y="335.50" width="62.00" height="11.20" fill="#dedede" stroke="#808080" stroke-width="0.8" />
<line x1="115.20" y1="314.10" x2="170.00" y2="314.10" stroke="#111" stroke-width="1.1" />
<text transform="translate(124.90 310.60) rotate(-90) scale(0.98 1)" font-size="8.0" text-anchor="start" fill="#000" stroke="#000" stroke-width="0.12" font-weight="normal">Lysate</text>
<text transform="translate(141.00 310.60) rotate(-90) scale(0.98 1)" font-size="8.0" text-anchor="start" fill="#000" stroke="#000" stroke-width="0.12" font-weight="normal">PU Beads</text>
<text transform="translate(154.60 310.60) rotate(-90) scale(0.98 1)" font-size="8.0" text-anchor="start" fill="#000" stroke="#000" stroke-width="0.12" font-weight="normal">Anti-HSP90</text>
<text transform="translate(168.30 310.60) rotate(-90) scale(0.98 1)" font-size="8.0" text-anchor="start" fill="#000" stroke="#000" stroke-width="0.12" font-weight="normal">Ctl Beads</text>
<text transform="translate(120.50 357.10) scale(1.0 1)" font-size="8.2" text-anchor="middle" font-weight="normal" fill="#000" stroke="#000" stroke-width="0.1" >1</text>
<text transform="translate(135.30 357.10) scale(1.0 1)" font-size="8.2" text-anchor="middle" font-weight="normal" fill="#000" stroke="#000" stroke-width="0.1" >2</text>
<text transform="translate(149.90 357.10) scale(1.0 1)" font-size="8.2" text-anchor="middle" font-weight="normal" fill="#000" stroke="#000" stroke-width="0.1" >3</text>
<text transform="translate(163.90 357.10) scale(1.0 1)" font-size="8.2" text-anchor="middle" font-weight="normal" fill="#000" stroke="#000" stroke-width="0.1" >4</text>
<line x1="116.30" y1="361.90" x2="171.30" y2="361.90" stroke="#111" stroke-width="1.1" />
<text transform="translate(143.40 372.80) scale(0.9 1)" font-size="8.4" text-anchor="middle" font-weight="normal" fill="#000" stroke="#000" stroke-width="0.16" >MINO</text>
<rect x="176.50" y="317.00" width="61.60" height="11.30" fill="#dedede" stroke="#808080" stroke-width="0.8" />
<rect x="176.50" y="335.50" width="61.60" height="11.20" fill="#dedede" stroke="#808080" stroke-width="0.8" />
<line x1="179.20" y1="314.10" x2="234.00" y2="314.10" stroke="#111" stroke-width="1.1" />
<text transform="translate(186.10 310.60) rotate(-90) scale(0.98 1)" font-size="8.0" text-anchor="start" fill="#000" stroke="#000" stroke-width="0.12" font-weight="normal">Lysate</text>
<text transform="translate(203.60 310.60) rotate(-90) scale(0.98 1)" font-size="8.0" text-anchor="start" fill="#000" stroke="#000" stroke-width="0.12" font-weight="normal">PU Beads</text>
<text transform="translate(219.30 310.60) rotate(-90) scale(0.98 1)" font-size="8.0" text-anchor="start" fill="#000" stroke="#000" stroke-width="0.12" font-weight="normal">Anti-HSP90</text>
<text transform="translate(232.50 310.60) rotate(-90) scale(0.98 1)" font-size="8.0" text-anchor="start" fill="#000" stroke="#000" stroke-width="0.12" font-weight="normal">Ctl Beads</text>
<text transform="translate(184.80 357.10) scale(1.0 1)" font-size="8.2" text-anchor="middle" font-weight="normal" fill="#000" stroke="#000" stroke-width="0.1" >1</text>
<text transform="translate(199.60 357.10) scale(1.0 1)" font-size="8.2" text-anchor="middle" font-weight="normal" fill="#000" stroke="#000" stroke-width="0.1" >2</text>
<text transform="translate(214.40 357.10) scale(1.0 1)" font-size="8.2" text-anchor="middle" font-weight="normal" fill="#000" stroke="#000" stroke-width="0.1" >3</text>
<text transform="translate(227.90 357.10) scale(1.0 1)" font-size="8.2" text-anchor="middle" font-weight="normal" fill="#000" stroke="#000" stroke-width="0.1" >4</text>
<line x1="180.20" y1="361.90" x2="234.60" y2="361.90" stroke="#111" stroke-width="1.1" />
<text transform="translate(207.20 372.80) scale(0.9 1)" font-size="8.4" text-anchor="middle" font-weight="normal" fill="#000" stroke="#000" stroke-width="0.16" >GRANTA</text>
<rect x="239.80" y="317.00" width="62.70" height="11.30" fill="#dedede" stroke="#808080" stroke-width="0.8" />
<rect x="239.80" y="335.50" width="62.70" height="11.20" fill="#dedede" stroke="#808080" stroke-width="0.8" />
<line x1="243.90" y1="314.10" x2="298.40" y2="314.10" stroke="#111" stroke-width="1.1" />
<text transform="translate(250.30 310.60) rotate(-90) scale(0.98 1)" font-size="8.0" text-anchor="start" fill="#000" stroke="#000" stroke-width="0.12" font-weight="normal">Lysate</text>
<text transform="translate(267.60 310.60) rotate(-90) scale(0.98 1)" font-size="8.0" text-anchor="start" fill="#000" stroke="#000" stroke-width="0.12" font-weight="normal">PU Beads</text>
<text transform="translate(282.60 310.60) rotate(-90) scale(0.98 1)" font-size="8.0" text-anchor="start" fill="#000" stroke="#000" stroke-width="0.12" font-weight="normal">Anti-HSP90</text>
<text transform="translate(296.30 310.60) rotate(-90) scale(0.98 1)" font-size="8.0" text-anchor="start" fill="#000" stroke="#000" stroke-width="0.12" font-weight="normal">Ctl Beads</text>
<text transform="translate(247.50 357.10) scale(1.0 1)" font-size="8.2" text-anchor="middle" font-weight="normal" fill="#000" stroke="#000" stroke-width="0.1" >1</text>
<text transform="translate(262.00 357.10) scale(1.0 1)" font-size="8.2" text-anchor="middle" font-weight="normal" fill="#000" stroke="#000" stroke-width="0.1" >2</text>
<text transform="translate(276.40 357.10) scale(1.0 1)" font-size="8.2" text-anchor="middle" font-weight="normal" fill="#000" stroke="#000" stroke-width="0.1" >3</text>
<text transform="translate(290.60 357.10) scale(1.0 1)" font-size="8.2" text-anchor="middle" font-weight="normal" fill="#000" stroke="#000" stroke-width="0.1" >4</text>
<line x1="244.90" y1="361.90" x2="299.20" y2="361.90" stroke="#111" stroke-width="1.1" />
<text transform="translate(272.30 372.80) scale(0.9 1)" font-size="8.4" text-anchor="middle" font-weight="normal" fill="#000" stroke="#000" stroke-width="0.16" >MAVER</text>
<rect x="50.55" y="321.72" width="12.50" height="1.36" rx="2.99" ry="0.68" fill="#000" opacity="0.55" filter="url(#b07)"/>
<rect x="66.80" y="321.82" width="13.00" height="1.95" rx="3.90" ry="0.98" fill="#000" opacity="0.8800000000000001" filter="url(#b07)"/>
<rect x="81.10" y="322.12" width="13.20" height="2.55" rx="3.96" ry="1.27" fill="#000" opacity="1.0" filter="url(#b07)"/>
<rect x="97.50" y="322.60" width="9.00" height="1.19" rx="2.62" ry="0.59" fill="#000" opacity="0.08800000000000001" filter="url(#b07)"/>
<rect x="114.80" y="321.59" width="13.00" height="2.21" rx="3.90" ry="1.10" fill="#000" opacity="0.935" filter="url(#b07)"/>
<rect x="129.05" y="321.83" width="14.50" height="2.55" rx="4.35" ry="1.27" fill="#000" opacity="1.0" filter="url(#b07)"/>
<rect x="143.55" y="321.59" width="13.50" height="2.21" rx="4.05" ry="1.10" fill="#000" opacity="0.935" filter="url(#b07)"/>
<rect x="162.00" y="323.00" width="9.00" height="1.19" rx="2.62" ry="0.59" fill="#000" opacity="0.165" filter="url(#b07)"/>
<rect x="178.35" y="322.46" width="12.50" height="1.27" rx="2.81" ry="0.64" fill="#000" opacity="0.44000000000000006" filter="url(#b07)"/>
<rect x="195.30" y="322.15" width="15.00" height="1.70" rx="3.74" ry="0.85" fill="#000" opacity="0.77" filter="url(#b07)"/>
<rect x="215.95" y="321.53" width="10.50" height="2.55" rx="3.15" ry="1.27" fill="#000" opacity="1.0" filter="url(#b07)"/>
<rect x="240.60" y="322.46" width="10.00" height="1.27" rx="2.81" ry="0.64" fill="#000" opacity="0.44000000000000006" filter="url(#b07)"/>
<rect x="256.50" y="321.65" width="12.00" height="1.70" rx="3.60" ry="0.85" fill="#000" opacity="0.66" filter="url(#b07)"/>
<rect x="271.55" y="321.53" width="13.50" height="2.55" rx="4.05" ry="1.27" fill="#000" opacity="1.0" filter="url(#b07)"/>
<rect x="50.00" y="339.90" width="14.00" height="3.00" rx="4.20" ry="1.50" fill="#000" opacity="1.0" filter="url(#b07)"/>
<rect x="113.90" y="340.60" width="15.00" height="3.20" rx="4.50" ry="1.60" fill="#000" opacity="1.0" filter="url(#b07)"/>
<rect x="176.65" y="339.60" width="10.50" height="1.60" rx="3.15" ry="0.80" fill="#000" opacity="0.7" filter="url(#b07)"/>
<rect x="241.20" y="336.50" width="9.00" height="4.20" rx="2.70" ry="2.10" fill="#000" opacity="0.45" filter="url(#b07)"/>
<text transform="translate(135.70 405.30) scale(0.94 1)" font-size="8.4" text-anchor="middle" font-weight="normal" fill="#000" stroke="#000" stroke-width="0.16" >Primary MCL cells</text>
<line x1="53.00" y1="409.50" x2="218.80" y2="409.50" stroke="#111" stroke-width="1.1" />
<text transform="translate(256.80 405.30) scale(0.94 1)" font-size="8.4" text-anchor="middle" font-weight="normal" fill="#000" stroke="#000" stroke-width="0.16" >Normal B-cells</text>
<line x1="223.80" y1="409.50" x2="290.00" y2="409.50" stroke="#111" stroke-width="1.1" />
<text transform="translate(318.30 405.30) scale(0.94 1)" font-size="8.4" text-anchor="middle" font-weight="normal" fill="#000" stroke="#000" stroke-width="0.16" >Cell lines</text>
<line x1="297.50" y1="409.50" x2="338.80" y2="409.50" stroke="#111" stroke-width="1.1" />
<text transform="translate(42.90 448.80) scale(0.97 1)" font-size="8.5" text-anchor="end" font-weight="normal" fill="#000" stroke="#000" stroke-width="0.16" >HSP90</text>
<text transform="translate(42.90 473.90) scale(0.885 1)" font-size="8.5" text-anchor="end" font-weight="normal" fill="#000" stroke="#000" stroke-width="0.16" >&#946;-actin</text>
<text transform="translate(56.30 431.60) rotate(-45) scale(1.0 1)" font-size="8.3" text-anchor="start" fill="#000" stroke="#000" stroke-width="0.12" font-weight="normal">Pt 1</text>
<text transform="translate(73.30 431.60) rotate(-45) scale(1.0 1)" font-size="8.3" text-anchor="start" fill="#000" stroke="#000" stroke-width="0.12" font-weight="normal">Pt 2</text>
<text transform="translate(88.80 431.60) rotate(-45) scale(1.0 1)" font-size="8.3" text-anchor="start" fill="#000" stroke="#000" stroke-width="0.12" font-weight="normal">Pt 3</text>
<text transform="translate(100.50 431.60) rotate(-45) scale(1.0 1)" font-size="8.3" text-anchor="start" fill="#000" stroke="#000" stroke-width="0.12" font-weight="normal">Pt 4</text>
<text transform="translate(113.80 431.60) rotate(-45) scale(1.0 1)" font-size="8.3" text-anchor="start" fill="#000" stroke="#000" stroke-width="0.12" font-weight="normal">Pt 5</text>
<text transform="translate(135.50 431.60) rotate(-45) scale(1.0 1)" font-size="8.3" text-anchor="start" fill="#000" stroke="#000" stroke-width="0.12" font-weight="normal">Pt 6</text>
<text transform="translate(152.50 431.60) rotate(-45) scale(1.0 1)" font-size="8.3" text-anchor="start" fill="#000" stroke="#000" stroke-width="0.12" font-weight="normal">Pt 7</text>
<text transform="translate(163.60 431.60) rotate(-45) scale(1.0 1)" font-size="8.3" text-anchor="start" fill="#000" stroke="#000" stroke-width="0.12" font-weight="normal">Pt 8</text>
<text transform="translate(179.60 431.60) rotate(-45) scale(1.0 1)" font-size="8.3" text-anchor="start" fill="#000" stroke="#000" stroke-width="0.12" font-weight="normal">Pt 9</text>
<text transform="translate(194.20 431.60) rotate(-45) scale(1.0 1)" font-size="8.3" text-anchor="start" fill="#000" stroke="#000" stroke-width="0.12" font-weight="normal">Pt 10</text>
<text transform="translate(210.20 431.60) rotate(-45) scale(1.0 1)" font-size="8.3" text-anchor="start" fill="#000" stroke="#000" stroke-width="0.12" font-weight="normal">Pt 11</text>
<text transform="translate(226.80 431.60) rotate(-45) scale(1.0 1)" font-size="8.3" text-anchor="start" fill="#000" stroke="#000" stroke-width="0.12" font-weight="normal">N 1</text>
<text transform="translate(241.20 431.60) rotate(-45) scale(1.0 1)" font-size="8.3" text-anchor="start" fill="#000" stroke="#000" stroke-width="0.12" font-weight="normal">N 2</text>
<text transform="translate(255.90 431.60) rotate(-45) scale(1.0 1)" font-size="8.3" text-anchor="start" fill="#000" stroke="#000" stroke-width="0.12" font-weight="normal">N 3</text>
<text transform="translate(270.40 431.60) rotate(-45) scale(1.0 1)" font-size="8.3" text-anchor="start" fill="#000" stroke="#000" stroke-width="0.12" font-weight="normal">N 4</text>
<text transform="translate(285.80 431.60) rotate(-45) scale(1.0 1)" font-size="8.3" text-anchor="start" fill="#000" stroke="#000" stroke-width="0.12" font-weight="normal">N 5</text>
<text transform="translate(300.00 431.60) rotate(-45) scale(1.0 1)" font-size="8.3" text-anchor="start" fill="#000" stroke="#000" stroke-width="0.12" font-weight="normal">JEKO</text>
<text transform="translate(316.30 431.60) rotate(-45) scale(1.0 1)" font-size="8.3" text-anchor="start" fill="#000" stroke="#000" stroke-width="0.12" font-weight="normal">MINO</text>
<text transform="translate(332.00 431.60) rotate(-45) scale(1.0 1)" font-size="8.3" text-anchor="start" fill="#000" stroke="#000" stroke-width="0.12" font-weight="normal">GRANTA</text>
<rect x="46.20" y="436.00" width="74.30" height="20.50" fill="url(#gE)" stroke="none" stroke-width="0" />
<rect x="122.50" y="436.00" width="219.40" height="20.50" fill="url(#gE)" stroke="none" stroke-width="0" />
<rect x="46.20" y="458.80" width="74.30" height="21.90" fill="#dadada" stroke="none" stroke-width="0" />
<rect x="122.50" y="458.80" width="219.40" height="21.90" fill="#d2d2d2" stroke="none" stroke-width="0" />
<g clip-path="url(#cE1)">
<ellipse cx="56.60" cy="447.10" rx="8.10" ry="4.64" fill="#000" opacity="0.28" filter="url(#b15)"/>
<path d="M50.00 445.05 Q56.60 446.40 63.20 445.05" fill="none" stroke="#000" stroke-width="4.30" stroke-linecap="round" opacity="1.0" filter="url(#b1)"/>
<ellipse cx="71.90" cy="448.60" rx="7.00" ry="4.64" fill="#000" opacity="0.3" filter="url(#b15)"/>
<path d="M66.40 446.55 Q71.90 447.90 77.40 446.55" fill="none" stroke="#000" stroke-width="4.30" stroke-linecap="round" opacity="0.9" filter="url(#b1)"/>
<ellipse cx="86.30" cy="449.50" rx="6.60" ry="4.32" fill="#000" opacity="0.26" filter="url(#b15)"/>
<path d="M81.20 447.45 Q86.30 448.80 91.40 447.45" fill="none" stroke="#000" stroke-width="3.90" stroke-linecap="round" opacity="0.82" filter="url(#b1)"/>
<ellipse cx="100.10" cy="449.50" rx="6.60" ry="4.16" fill="#000" opacity="0.24" filter="url(#b15)"/>
<path d="M95.00 447.45 Q100.10 448.80 105.20 447.45" fill="none" stroke="#000" stroke-width="3.70" stroke-linecap="round" opacity="0.78" filter="url(#b1)"/>
<ellipse cx="113.90" cy="449.20" rx="6.60" ry="4.32" fill="#000" opacity="0.26" filter="url(#b15)"/>
<path d="M108.80 447.15 Q113.90 448.50 119.00 447.15" fill="none" stroke="#000" stroke-width="3.90" stroke-linecap="round" opacity="0.82" filter="url(#b1)"/>
</g>
<g clip-path="url(#cE2)">
<rect x="292" y="434" width="52" height="8" fill="#f6f6f6" opacity="0.9" filter="url(#b2)"/>
<ellipse cx="133.30" cy="449.50" rx="7.80" ry="4.16" fill="#000" opacity="0.2" filter="url(#b15)"/>
<path d="M127.00 447.45 Q133.30 448.80 139.60 447.45" fill="none" stroke="#000" stroke-width="3.70" stroke-linecap="round" opacity="0.72" filter="url(#b1)"/>
<ellipse cx="149.80" cy="450.40" rx="7.50" ry="4.80" fill="#000" opacity="0.26" filter="url(#b15)"/>
<path d="M143.80 448.35 Q149.80 449.70 155.80 448.35" fill="none" stroke="#000" stroke-width="4.50" stroke-linecap="round" opacity="0.9" filter="url(#b1)"/>
<ellipse cx="165.00" cy="450.40" rx="7.30" ry="4.16" fill="#000" opacity="0.2" filter="url(#b15)"/>
<path d="M159.20 448.35 Q165.00 449.70 170.80 448.35" fill="none" stroke="#000" stroke-width="3.70" stroke-linecap="round" opacity="0.72" filter="url(#b1)"/>
<ellipse cx="180.25" cy="449.50" rx="7.05" ry="4.48" fill="#000" opacity="0.24" filter="url(#b15)"/>
<path d="M174.70 447.45 Q180.25 448.80 185.80 447.45" fill="none" stroke="#000" stroke-width="4.10" stroke-linecap="round" opacity="0.9" filter="url(#b1)"/>
<ellipse cx="195.60" cy="447.90" rx="6.70" ry="3.20" fill="#000" opacity="0.1" filter="url(#b15)"/>
<path d="M190.40 445.85 Q195.60 447.20 200.80 445.85" fill="none" stroke="#000" stroke-width="2.50" stroke-linecap="round" opacity="0.36" filter="url(#b1)"/>
<ellipse cx="210.50" cy="447.40" rx="5.80" ry="3.52" fill="#000" opacity="0.14" filter="url(#b15)"/>
<path d="M206.20 445.35 Q210.50 446.70 214.80 445.35" fill="none" stroke="#000" stroke-width="2.90" stroke-linecap="round" opacity="0.42" filter="url(#b1)"/>
<ellipse cx="225.00" cy="447.80" rx="6.30" ry="3.52" fill="#000" opacity="0.15" filter="url(#b15)"/>
<path d="M220.20 445.75 Q225.00 447.10 229.80 445.75" fill="none" stroke="#000" stroke-width="2.90" stroke-linecap="round" opacity="0.38" filter="url(#b1)"/>
<ellipse cx="240.20" cy="447.70" rx="6.90" ry="3.68" fill="#000" opacity="0.16" filter="url(#b15)"/>
<path d="M234.80 445.65 Q240.20 447.00 245.60 445.65" fill="none" stroke="#000" stroke-width="3.10" stroke-linecap="round" opacity="0.4" filter="url(#b1)"/>
<ellipse cx="255.50" cy="446.60" rx="7.00" ry="4.32" fill="#000" opacity="0.24" filter="url(#b15)"/>
<path d="M250.00 444.55 Q255.50 445.90 261.00 444.55" fill="none" stroke="#000" stroke-width="3.90" stroke-linecap="round" opacity="0.6" filter="url(#b1)"/>
<ellipse cx="269.40" cy="447.20" rx="5.70" ry="3.52" fill="#000" opacity="0.12" filter="url(#b15)"/>
<path d="M265.20 445.15 Q269.40 446.50 273.60 445.15" fill="none" stroke="#000" stroke-width="2.90" stroke-linecap="round" opacity="0.24" filter="url(#b1)"/>
<ellipse cx="285.80" cy="447.20" rx="6.10" ry="3.52" fill="#000" opacity="0.1" filter="url(#b15)"/>
<path d="M281.20 445.15 Q285.80 446.50 290.40 445.15" fill="none" stroke="#000" stroke-width="2.90" stroke-linecap="round" opacity="0.18" filter="url(#b1)"/>
<rect x="190.0" y="453.0" width="11" height="2.2" rx="3" ry="1" fill="#000" opacity="0.16" filter="url(#b1)"/>
<rect x="294.6" y="441.0" width="14.8" height="13.4" rx="5" ry="5" fill="#000" opacity="0.36" filter="url(#b15)"/>
<ellipse cx="302.0" cy="451.0" rx="6.6" ry="2.2" fill="#000" opacity="0.3" filter="url(#b15)"/>
<rect x="310.8" y="443.6" width="12.6" height="10.6" rx="4.5" ry="4.5" fill="#000" opacity="0.3" filter="url(#b15)"/>
<ellipse cx="317.0" cy="451.4" rx="5.6" ry="2.0" fill="#000" opacity="0.22" filter="url(#b15)"/>
<ellipse cx="334.2" cy="444.6" rx="7.4" ry="3.0" fill="#000" opacity="0.62" filter="url(#b15)" transform="rotate(-24 334.2 444.6)"/>
<ellipse cx="332.5" cy="448.0" rx="6.5" ry="3.2" fill="#000" opacity="0.22" filter="url(#b15)"/>
</g>
<g clip-path="url(#cE3)">
<rect x="44" y="469.2" width="78" height="3.0" fill="#000" filter="url(#b1)"/>
<rect x="45.00" y="467.50" width="17.50" height="4.80" rx="5.25" ry="2.40" fill="#000" filter="url(#b1)"/>
<rect x="60.00" y="468.40" width="18.00" height="4.80" rx="5.40" ry="2.40" fill="#000" filter="url(#b1)"/>
<rect x="76.50" y="468.40" width="16.50" height="6.20" rx="4.95" ry="3.10" fill="#000" filter="url(#b1)"/>
<rect x="91.50" y="468.30" width="15.50" height="5.80" rx="4.65" ry="2.90" fill="#000" filter="url(#b1)"/>
<rect x="105.50" y="468.30" width="16.00" height="6.60" rx="4.80" ry="3.30" fill="#000" filter="url(#b1)"/>
</g>
<g clip-path="url(#cE4)">
<rect x="121" y="468.2" width="172" height="3.6" fill="#000" filter="url(#b1)"/>
<rect x="292" y="469.8" width="10" height="2.0" fill="#000" opacity="0.8" filter="url(#b1)"/>
<rect x="300" y="469.2" width="38" height="3.0" fill="#000" filter="url(#b1)"/>
<rect x="205" y="460" width="90" height="8" fill="#000" opacity="0.10" filter="url(#b2)"/>
<rect x="121.50" y="463.60" width="19.50" height="8.00" rx="5.50" ry="4.00" fill="#000" filter="url(#b1)"/>
<rect x="138.50" y="465.60" width="19.00" height="8.80" rx="5.50" ry="4.40" fill="#000" filter="url(#b1)"/>
<rect x="155.50" y="466.00" width="16.50" height="8.00" rx="4.95" ry="4.00" fill="#000" filter="url(#b1)"/>
<rect x="170.50" y="465.40" width="17.00" height="9.20" rx="5.10" ry="4.60" fill="#000" filter="url(#b1)"/>
<rect x="188.00" y="467.40" width="14.50" height="5.60" rx="4.35" ry="2.80" fill="#000" filter="url(#b1)"/>
<rect x="202.50" y="465.90" width="16.00" height="8.20" rx="4.80" ry="4.10" fill="#000" filter="url(#b1)"/>
<rect x="217.00" y="465.70" width="17.00" height="11.00" rx="5.10" ry="5.50" fill="#000" filter="url(#b1)"/>
<rect x="232.00" y="465.40" width="17.00" height="11.60" rx="5.10" ry="5.80" fill="#000" filter="url(#b1)"/>
<rect x="247.50" y="464.60" width="15.50" height="12.40" rx="4.65" ry="6.20" fill="#000" filter="url(#b1)"/>
<rect x="262.50" y="464.60" width="15.50" height="12.00" rx="4.65" ry="6.00" fill="#000" filter="url(#b1)"/>
<rect x="277.50" y="464.20" width="16.00" height="12.40" rx="4.80" ry="6.20" fill="#000" filter="url(#b1)"/>
<rect x="295.50" y="468.10" width="14.50" height="5.80" rx="4.35" ry="2.90" fill="#000" filter="url(#b1)"/>
<rect x="310.00" y="467.10" width="14.50" height="9.40" rx="4.35" ry="4.70" fill="#000" filter="url(#b1)"/>
<rect x="324.50" y="465.80" width="16.00" height="8.00" rx="4.80" ry="4.00" fill="#000" filter="url(#b1)"/>
</g>
<line x1="398.40" y1="292.60" x2="398.40" y2="371.70" stroke="#111" stroke-width="1.2" />
<line x1="397.80" y1="371.10" x2="512.80" y2="371.10" stroke="#111" stroke-width="1.2" />
<line x1="395.60" y1="371.10" x2="398.40" y2="371.10" stroke="#111" stroke-width="0.9" />
<text transform="translate(391.10 374.00) scale(0.93 1)" font-size="8.0" text-anchor="end" font-weight="normal" fill="#000" stroke="#000" stroke-width="0.08" >0.0</text>
<line x1="395.60" y1="355.90" x2="398.40" y2="355.90" stroke="#111" stroke-width="0.9" />
<text transform="translate(391.10 358.80) scale(0.93 1)" font-size="8.0" text-anchor="end" font-weight="normal" fill="#000" stroke="#000" stroke-width="0.08" >0.2</text>
<line x1="395.60" y1="340.70" x2="398.40" y2="340.70" stroke="#111" stroke-width="0.9" />
<text transform="translate(391.10 343.60) scale(0.93 1)" font-size="8.0" text-anchor="end" font-weight="normal" fill="#000" stroke="#000" stroke-width="0.08" >0.4</text>
<line x1="395.60" y1="325.50" x2="398.40" y2="325.50" stroke="#111" stroke-width="0.9" />
<text transform="translate(391.10 328.40) scale(0.93 1)" font-size="8.0" text-anchor="end" font-weight="normal" fill="#000" stroke="#000" stroke-width="0.08" >0.6</text>
<line x1="395.60" y1="310.30" x2="398.40" y2="310.30" stroke="#111" stroke-width="0.9" />
<text transform="translate(391.10 313.20) scale(0.93 1)" font-size="8.0" text-anchor="end" font-weight="normal" fill="#000" stroke="#000" stroke-width="0.08" >0.8</text>
<line x1="395.60" y1="295.10" x2="398.40" y2="295.10" stroke="#111" stroke-width="0.9" />
<text transform="translate(391.10 298.00) scale(0.93 1)" font-size="8.0" text-anchor="end" font-weight="normal" fill="#000" stroke="#000" stroke-width="0.08" >1.0</text>
<line x1="417.30" y1="371.10" x2="417.30" y2="373.90" stroke="#111" stroke-width="0.8" />
<line x1="455.30" y1="371.10" x2="455.30" y2="373.90" stroke="#111" stroke-width="0.8" />
<line x1="493.40" y1="371.10" x2="493.40" y2="373.90" stroke="#111" stroke-width="0.8" />
<text transform="translate(375.40 331.50) rotate(-90) scale(0.785 1)" font-size="9.0" text-anchor="middle" fill="#000" stroke="#000" stroke-width="0.28" font-weight="normal">HSP90/&#946;-actin ratio</text>
<text transform="translate(417.20 385.20) scale(0.95 1)" font-size="8.4" text-anchor="middle" font-weight="normal" fill="#000" stroke="#000" stroke-width="0.12" >Primary</text>
<text transform="translate(417.20 394.90) scale(0.95 1)" font-size="8.4" text-anchor="middle" font-weight="normal" fill="#000" stroke="#000" stroke-width="0.12" >MCL cells</text>
<text transform="translate(455.30 385.20) scale(0.95 1)" font-size="8.4" text-anchor="middle" font-weight="normal" fill="#000" stroke="#000" stroke-width="0.12" >Normal</text>
<text transform="translate(455.30 394.90) scale(0.95 1)" font-size="8.4" text-anchor="middle" font-weight="normal" fill="#000" stroke="#000" stroke-width="0.12" >B-cells</text>
<text transform="translate(493.60 385.20) scale(0.95 1)" font-size="8.4" text-anchor="middle" font-weight="normal" fill="#000" stroke="#000" stroke-width="0.12" >MCL</text>
<text transform="translate(493.60 394.90) scale(0.95 1)" font-size="8.4" text-anchor="middle" font-weight="normal" fill="#000" stroke="#000" stroke-width="0.12" >cell line</text>
<text transform="translate(456.60 274.60) scale(0.96 1)" font-size="8.4" text-anchor="middle" font-weight="normal" fill="#000" stroke="#000" stroke-width="0.15" >P=0.0737</text>
<text transform="translate(435.30 296.90) scale(0.96 1)" font-size="8.4" text-anchor="middle" font-weight="normal" fill="#000" stroke="#000" stroke-width="0.15" >P=0.0474</text>
<text transform="translate(475.40 296.90) scale(0.96 1)" font-size="8.4" text-anchor="middle" font-weight="normal" fill="#000" stroke="#000" stroke-width="0.15" >P=0.0009</text>
<path d="M420.30 283.20 C420.60 280.00 422.10 279.20 426.30 279.20 L487.80 279.20 C492.00 279.20 493.50 280.00 493.80 283.20" fill="none" stroke="#111" stroke-width="1.0"/>
<path d="M420.30 305.00 C420.60 301.90 422.10 301.10 426.30 301.10 L444.90 301.10 C449.10 301.10 450.60 301.90 450.90 305.00" fill="none" stroke="#111" stroke-width="1.0"/>
<path d="M459.80 305.00 C460.10 301.90 461.60 301.10 465.80 301.10 L484.80 301.10 C489.00 301.10 490.50 301.90 490.80 305.00" fill="none" stroke="#111" stroke-width="1.0"/>
<line x1="404.30" y1="338.30" x2="430.40" y2="338.30" stroke="#111" stroke-width="1.2" />
<line x1="417.30" y1="334.50" x2="417.30" y2="341.80" stroke="#111" stroke-width="0.9" />
<line x1="410.30" y1="334.50" x2="424.00" y2="334.50" stroke="#111" stroke-width="1.0" />
<line x1="410.30" y1="341.80" x2="424.00" y2="341.80" stroke="#111" stroke-width="1.0" />
<circle cx="417.3" cy="319.1" r="1.9" fill="#a30029"/>
<circle cx="421.9" cy="318.0" r="1.9" fill="#a30029"/>
<circle cx="412.6" cy="331.6" r="1.9" fill="#a30029"/>
<circle cx="421.9" cy="331.0" r="1.9" fill="#a30029"/>
<circle cx="417.3" cy="332.9" r="1.9" fill="#a30029"/>
<circle cx="417.3" cy="341.9" r="1.9" fill="#a30029"/>
<circle cx="412.6" cy="344.1" r="1.9" fill="#a30029"/>
<circle cx="421.9" cy="344.1" r="1.9" fill="#a30029"/>
<circle cx="417.3" cy="347.1" r="1.9" fill="#a30029"/>
<circle cx="417.3" cy="356.1" r="1.9" fill="#a30029"/>
<circle cx="421.9" cy="355.3" r="1.9" fill="#a30029"/>
<line x1="442.20" y1="351.10" x2="468.30" y2="351.10" stroke="#111" stroke-width="1.2" />
<rect x="449.05" y="348.15" width="3.10" height="3.10" fill="#2c4a80" stroke="none" stroke-width="0" />
<rect x="453.65" y="349.25" width="3.10" height="3.10" fill="#2c4a80" stroke="none" stroke-width="0" />
<rect x="458.65" y="346.15" width="3.10" height="3.10" fill="#2c4a80" stroke="none" stroke-width="0" />
<rect x="458.65" y="350.25" width="3.10" height="3.10" fill="#2c4a80" stroke="none" stroke-width="0" />
<rect x="453.65" y="353.85" width="3.10" height="3.10" fill="#2c4a80" stroke="none" stroke-width="0" />
<line x1="480.60" y1="322.30" x2="506.80" y2="322.30" stroke="#111" stroke-width="1.2" />
<line x1="493.40" y1="316.00" x2="493.40" y2="328.50" stroke="#111" stroke-width="0.9" />
<line x1="487.10" y1="316.00" x2="500.30" y2="316.00" stroke="#111" stroke-width="1.0" />
<line x1="487.10" y1="328.50" x2="500.30" y2="328.50" stroke="#111" stroke-width="1.0" />
<path d="M493.4 309.6 L495.29999999999995 312.8 L491.5 312.8 Z" fill="#6aa121"/>
<path d="M493.4 320.8 L495.29999999999995 324.0 L491.5 324.0 Z" fill="#6aa121"/>
<path d="M493.4 331.20000000000005 L495.29999999999995 334.40000000000003 L491.5 334.40000000000003 Z" fill="#6aa121"/>
<rect x="0.5" y="0.5" width="519" height="487" fill="none" stroke="#000" stroke-width="1"/>
<rect x="518.5" y="0" width="1.5" height="488" fill="#000"/>
<rect x="0" y="486.5" width="520" height="1.5" fill="#000"/>
</g>
</svg>
</body></html>
